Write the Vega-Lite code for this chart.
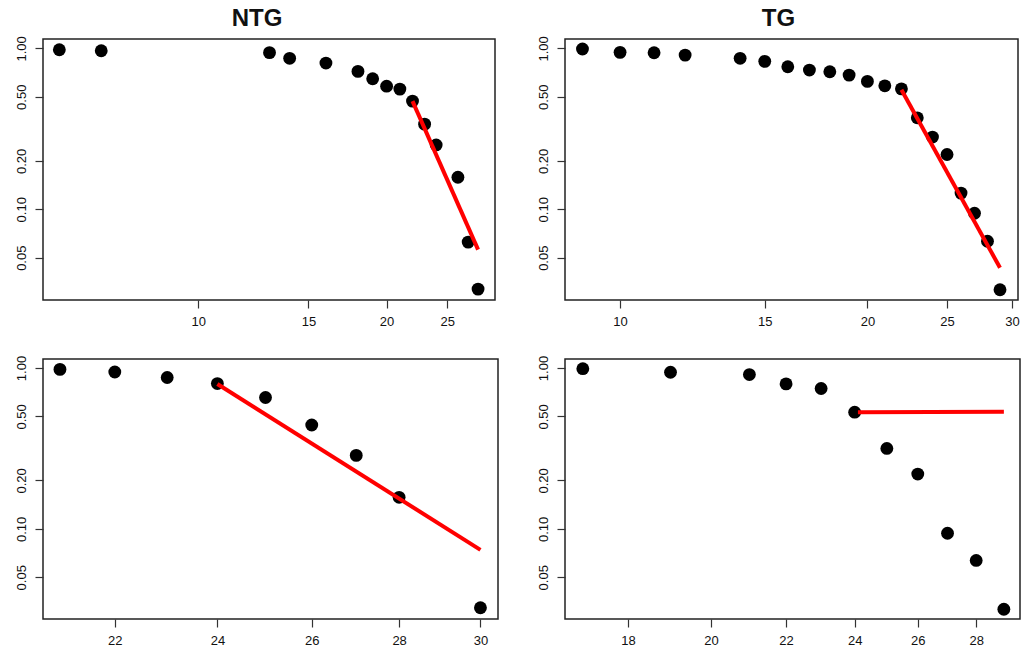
{
  "$schema": "https://vega.github.io/schema/vega-lite/v6.json",
  "padding": {"left": 14, "top": 6, "right": 5, "bottom": 2},
  "background": "white",
  "columns": 2,
  "bounds": "flush",
  "spacing": {"column": 67, "row": 59},
  "resolve": {"scale": {"x": "independent", "y": "independent"}},
  "config": {
    "view": {"stroke": "#222", "strokeWidth": 1.5},
    "font": "Liberation Sans",
    "axis": {
      "grid": false, "domain": false, "tickColor": "#333", "tickSize": 8, "tickWidth": 1.2,
      "labelFont": "Liberation Sans", "labelFontSize": 13, "labelColor": "#111", "title": null, "labelPadding": 7
    },
    "title": {"font": "Liberation Sans", "fontSize": 24, "fontWeight": "bold", "color": "#111", "anchor": "middle", "baseline": "alphabetic", "offset": 4.5}
  },
  "datasets": {
    "pts": [
      {"panel": "TL", "x": 6, "y": 0.98}, {"panel": "TL", "x": 7, "y": 0.966}, {"panel": "TL", "x": 13, "y": 0.94},
      {"panel": "TL", "x": 14, "y": 0.867}, {"panel": "TL", "x": 16, "y": 0.81}, {"panel": "TL", "x": 18, "y": 0.719},
      {"panel": "TL", "x": 19, "y": 0.647}, {"panel": "TL", "x": 20, "y": 0.582}, {"panel": "TL", "x": 21, "y": 0.558},
      {"panel": "TL", "x": 22, "y": 0.47}, {"panel": "TL", "x": 23, "y": 0.338}, {"panel": "TL", "x": 24, "y": 0.251},
      {"panel": "TL", "x": 26, "y": 0.158}, {"panel": "TL", "x": 27, "y": 0.0625}, {"panel": "TL", "x": 28, "y": 0.0319},
      {"panel": "TR", "x": 9, "y": 0.99}, {"panel": "TR", "x": 10, "y": 0.944}, {"panel": "TR", "x": 11, "y": 0.939},
      {"panel": "TR", "x": 12, "y": 0.908}, {"panel": "TR", "x": 14, "y": 0.867}, {"panel": "TR", "x": 15, "y": 0.83},
      {"panel": "TR", "x": 16, "y": 0.768}, {"panel": "TR", "x": 17, "y": 0.733}, {"panel": "TR", "x": 18, "y": 0.715},
      {"panel": "TR", "x": 19, "y": 0.682}, {"panel": "TR", "x": 20, "y": 0.623}, {"panel": "TR", "x": 21, "y": 0.585},
      {"panel": "TR", "x": 22, "y": 0.56}, {"panel": "TR", "x": 23, "y": 0.37}, {"panel": "TR", "x": 24, "y": 0.281},
      {"panel": "TR", "x": 25, "y": 0.219}, {"panel": "TR", "x": 26, "y": 0.126}, {"panel": "TR", "x": 27, "y": 0.0945},
      {"panel": "TR", "x": 28, "y": 0.0633}, {"panel": "TR", "x": 29, "y": 0.0316},
      {"panel": "BL", "x": 21, "y": 0.98}, {"panel": "BL", "x": 22, "y": 0.944}, {"panel": "BL", "x": 23, "y": 0.872},
      {"panel": "BL", "x": 24, "y": 0.8}, {"panel": "BL", "x": 25, "y": 0.655}, {"panel": "BL", "x": 26, "y": 0.442},
      {"panel": "BL", "x": 27, "y": 0.286}, {"panel": "BL", "x": 28, "y": 0.157}, {"panel": "BL", "x": 30, "y": 0.0323},
      {"panel": "BR", "x": 17, "y": 0.99}, {"panel": "BR", "x": 19, "y": 0.94}, {"panel": "BR", "x": 21, "y": 0.91},
      {"panel": "BR", "x": 22, "y": 0.796}, {"panel": "BR", "x": 23, "y": 0.745}, {"panel": "BR", "x": 24, "y": 0.531},
      {"panel": "BR", "x": 25, "y": 0.316}, {"panel": "BR", "x": 26, "y": 0.219}, {"panel": "BR", "x": 27, "y": 0.0938},
      {"panel": "BR", "x": 28, "y": 0.0636}, {"panel": "BR", "x": 29, "y": 0.0316}
    ],
    "fit": [
      {"panel": "TL", "x": 22, "y": 0.47}, {"panel": "TL", "x": 28, "y": 0.0561},
      {"panel": "TR", "x": 22, "y": 0.553}, {"panel": "TR", "x": 29, "y": 0.0433},
      {"panel": "BL", "x": 24, "y": 0.795}, {"panel": "BL", "x": 30, "y": 0.074},
      {"panel": "BR", "x": 24.1, "y": 0.531}, {"panel": "BR", "x": 29, "y": 0.535}
    ]
  },
  "concat": [
    {
      "title": {"text": "NTG", "dx": -12},
      "width": 452, "height": 261,
      "encoding": {
        "x": {"field": "x", "type": "quantitative", "scale": {"type": "log", "domain": [5.65, 29.8], "nice": false}, "axis": {"values": [10, 15, 20, 25]}},
        "y": {"field": "y", "type": "quantitative", "scale": {"type": "log", "domain": [0.0273, 1.143], "nice": false}, "axis": {"values": [0.05, 0.1, 0.2, 0.5, 1], "format": ".2f", "labelAngle": -90}}
      },
      "layer": [
        {"data": {"name": "pts"}, "transform": [{"filter": "datum.panel == 'TL'"}], "mark": {"type": "point", "filled": true, "color": "black", "size": 165, "opacity": 1}},
        {"data": {"name": "fit"}, "transform": [{"filter": "datum.panel == 'TL'"}], "mark": {"type": "line", "color": "#ff0000", "strokeWidth": 4}}
      ]
    },
    {
      "title": {"text": "TG", "dx": -13},
      "width": 453, "height": 261,
      "encoding": {
        "x": {"field": "x", "type": "quantitative", "scale": {"type": "log", "domain": [8.57, 30.5], "nice": false}, "axis": {"values": [10, 15, 20, 25, 30]}},
        "y": {"field": "y", "type": "quantitative", "scale": {"type": "log", "domain": [0.0273, 1.143], "nice": false}, "axis": {"values": [0.05, 0.1, 0.2, 0.5, 1], "format": ".2f", "labelAngle": -90}}
      },
      "layer": [
        {"data": {"name": "pts"}, "transform": [{"filter": "datum.panel == 'TR'"}], "mark": {"type": "point", "filled": true, "color": "black", "size": 165, "opacity": 1}},
        {"data": {"name": "fit"}, "transform": [{"filter": "datum.panel == 'TR'"}], "mark": {"type": "line", "color": "#ff0000", "strokeWidth": 4}}
      ]
    },
    {
      "width": 455, "height": 260,
      "encoding": {
        "x": {"field": "x", "type": "quantitative", "scale": {"type": "log", "domain": [20.7, 30.45], "nice": false}, "axis": {"values": [22, 24, 26, 28, 30]}},
        "y": {"field": "y", "type": "quantitative", "scale": {"type": "log", "domain": [0.0275, 1.137], "nice": false}, "axis": {"values": [0.05, 0.1, 0.2, 0.5, 1], "format": ".2f", "labelAngle": -90}}
      },
      "layer": [
        {"data": {"name": "pts"}, "transform": [{"filter": "datum.panel == 'BL'"}], "mark": {"type": "point", "filled": true, "color": "black", "size": 165, "opacity": 1}},
        {"data": {"name": "fit"}, "transform": [{"filter": "datum.panel == 'BL'"}], "mark": {"type": "line", "color": "#ff0000", "strokeWidth": 4}}
      ]
    },
    {
      "width": 455, "height": 260,
      "encoding": {
        "x": {"field": "x", "type": "quantitative", "scale": {"type": "log", "domain": [16.62, 29.6], "nice": false}, "axis": {"values": [18, 20, 22, 24, 26, 28]}},
        "y": {"field": "y", "type": "quantitative", "scale": {"type": "log", "domain": [0.0275, 1.137], "nice": false}, "axis": {"values": [0.05, 0.1, 0.2, 0.5, 1], "format": ".2f", "labelAngle": -90}}
      },
      "layer": [
        {"data": {"name": "pts"}, "transform": [{"filter": "datum.panel == 'BR'"}], "mark": {"type": "point", "filled": true, "color": "black", "size": 165, "opacity": 1}},
        {"data": {"name": "fit"}, "transform": [{"filter": "datum.panel == 'BR'"}], "mark": {"type": "line", "color": "#ff0000", "strokeWidth": 4}}
      ]
    }
  ]
}
